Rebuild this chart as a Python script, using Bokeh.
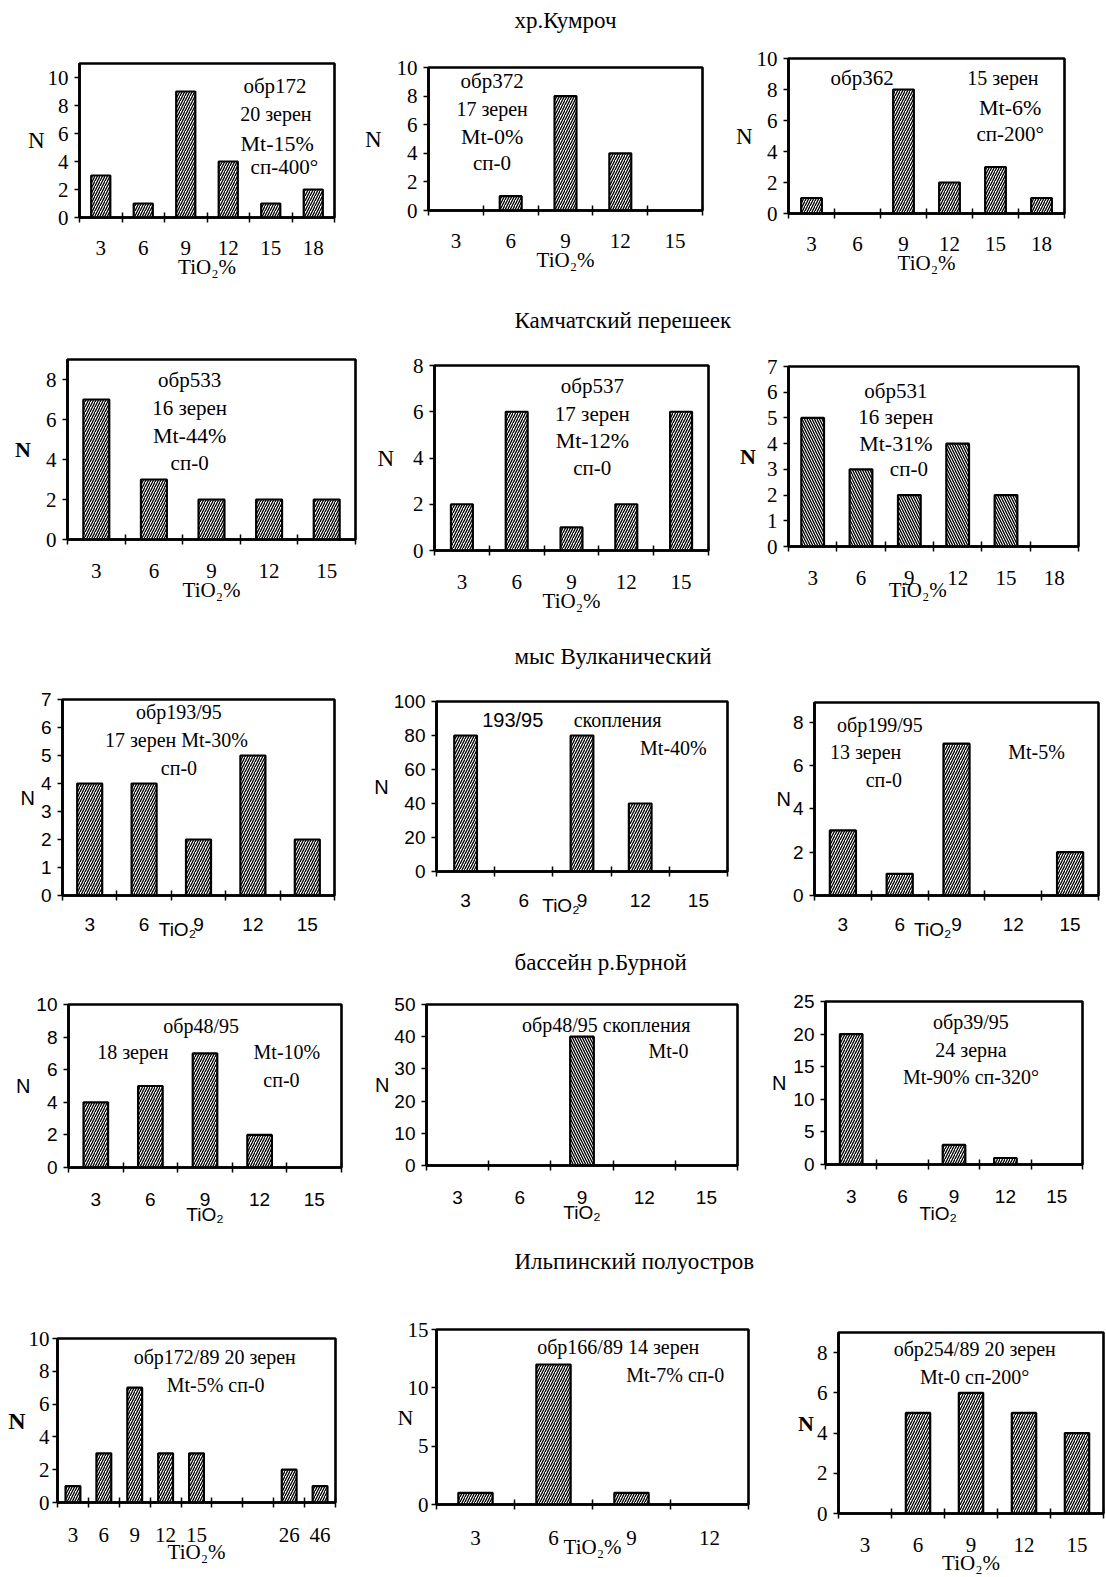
from bokeh.plotting import figure
from bokeh.layouts import column, row
from bokeh.models import Range1d, FixedTicker, Label, LinearAxis, Spacer
from bokeh.embed import file_html
from bokeh.resources import INLINE

SERIF = "Liberation Serif"
SANS = "Liberation Sans"
HAS_ORIENT = "axis_label_orientation" in LinearAxis.properties()
NB = "\u00a0"

# ---------------- data ----------------
cats_3_18 = ["3", "6", "9", "12", "15", "18"]
cats_3_15 = ["3", "6", "9", "12", "15"]
cats_3_12 = ["3", "6", "9", "12"]
cats_ilp172 = ["3", "6", "9", "12", "15", "", "", "26", "46"]

kumroch_172 = [3, 1, 9, 4, 1, 2]
kumroch_372 = [0, 1, 8, 4, 0]
kumroch_362 = [1, 0, 8, 2, 3, 1]
kamch_533 = [7, 3, 2, 2, 2]
kamch_537 = [2, 6, 1, 2, 6]
kamch_531 = [5, 3, 2, 4, 2, 0]
vulk_193 = [4, 4, 2, 5, 2]
vulk_193_skopl = [80, 0, 80, 40, 0]
vulk_199 = [3, 1, 7, 0, 2]
burn_48 = [4, 5, 7, 2, 0]
burn_48_skopl = [0, 0, 40, 0, 0]
burn_39 = [20, 0, 3, 1, 0]
ilp_172 = [1, 3, 7, 3, 3, 0, 0, 2, 1]
ilp_166 = [1, 12, 1, 0]
ilp_254 = [0, 5, 6, 5, 4]

section_titles = ["хр.Кумроч", "Камчатский перешеек", "мыс Вулканический",
                  "бассейн р.Бурной", "Ильпинский полуостров"]

# ---------------- layout / style specs ----------------
T = dict(font=SERIF, tick_size="21px", xlabel="TiO₂%")
A = dict(font=SANS, tick_size="19px", xlabel="TiO₂")

panels = [
    # row 1
    dict(cats=cats_3_18, vals=kumroch_172, ymax=11, ystep=2, frame=(79, 334, 63, 217), bar_w=0.45, hatch="/",
         style=T, nfont=SERIF, nsize="23px", nbold=False, nstand=0, xstand=18, xlstand=-3,
         notes=[("обр172", 4.6, 9.37, 21), ("20 зерен", 4.62, 7.38, 20), ("Mt-15%", 4.65, 5.32, 22), ("сп-400°", 4.82, 3.62, 21)]),
    dict(cats=cats_3_15, vals=kumroch_372, ymax=10, ystep=2, frame=(428, 702, 67, 210), bar_w=0.4, hatch="/",
         style=T, nfont=SERIF, nsize="23px", nbold=False, nstand=12, xstand=18, xlstand=-3,
         notes=[("обр372", 1.16, 9.09, 21), ("17 зерен", 1.16, 7.13, 20), ("Mt-0%", 1.16, 5.17, 22), ("сп-0", 1.16, 3.29, 21)]),
    dict(cats=cats_3_18, vals=kumroch_362, ymax=10, ystep=2, frame=(788, 1064, 58, 213), bar_w=0.45, hatch="/",
         style=T, nfont=SERIF, nsize="23px", nbold=False, nstand=1, xstand=18, xlstand=-3,
         notes=[("обр362", 1.6, 8.71, 21), ("15 зерен", 4.66, 8.71, 20), ("Mt-6%", 4.82, 6.84, 22), ("сп-200°", 4.82, 5.16, 21)]),
    # row 2
    dict(cats=cats_3_15, vals=kamch_533, ymax=9, ystep=2, frame=(67, 355, 359, 539), bar_w=0.45, hatch="/",
         style=T, nfont=SERIF, nsize="22px", nbold=True, nstand=12, xstand=19, xlstand=-3,
         notes=[("обр533", 2.12, 8.0, 21), ("16 зерен", 2.12, 6.6, 21), ("Mt-44%", 2.12, 5.2, 22), ("сп-0", 2.12, 3.85, 21)]),
    dict(cats=cats_3_15, vals=kamch_537, ymax=8, ystep=2, frame=(434, 708, 365, 550), bar_w=0.4, hatch="/",
         style=T, nfont=SERIF, nsize="23px", nbold=False, nstand=16, xstand=19, xlstand=-3,
         notes=[("обр537", 2.88, 7.13, 21), ("17 зерен", 2.88, 5.92, 21), ("Mt-12%", 2.88, 4.75, 22), ("сп-0", 2.88, 3.58, 21)]),
    dict(cats=cats_3_18, vals=kamch_531, ymax=7, ystep=1, frame=(788, 1078, 366, 546), bar_w=0.47, hatch="\\",
         style=T, nfont=SERIF, nsize="22px", nbold=True, nstand=8, xstand=19, xlstand=-10, xlpad=(0, 6),
         notes=[("обр531", 2.22, 6.03, 21), ("16 зерен", 2.22, 5.02, 21), ("Mt-31%", 2.22, 4.01, 22), ("сп-0", 2.49, 3.03, 21)]),
    # row 3
    dict(cats=cats_3_15, vals=vulk_193, ymax=7, ystep=1, frame=(62, 334, 699, 896), bar_w=0.46, hatch="/",
         style=A, nfont=SANS, nsize="20px", nbold=False, nstand=3, xstand=17, xlstand=-15, xlpad=(0, 8),
         notes=[("обр193/95", 2.14, 6.54, 20), ("17 зерен  Mt-30%", 2.14, 5.55, 20), ("сп-0", 2.14, 4.55, 20)]),
    dict(cats=cats_3_15, vals=vulk_193_skopl, ymax=100, ystep=20, frame=(436, 727, 701, 872), bar_w=0.39, hatch="/",
         style=A, nfont=SANS, nsize="20px", nbold=False, nstand=2, xstand=17, xlstand=-15, xlpad=(0, 8),
         notes=[("193/95", 1.31, 88.9, 20, SANS), ("скопления", 3.11, 88.9, 20), ("Mt-40%", 4.07, 72.5, 20)]),
    dict(cats=cats_3_15, vals=vulk_199, ymax=8.9, ystep=2, frame=(814, 1098, 702, 896), bar_w=0.46, hatch="/",
         style=A, nfont=SANS, nsize="20px", nbold=False, nstand=-1, xstand=17, xlstand=-15, xlpad=(0, 9),
         notes=[("обр199/95", 1.15, 7.84, 20), ("13 зерен", 0.9, 6.6, 20), ("сп-0", 1.22, 5.32, 20), ("Mt-5%", 3.91, 6.6, 20)]),
    # row 4
    dict(cats=cats_3_15, vals=burn_48, ymax=10, ystep=2, frame=(68, 341, 1004, 1167), bar_w=0.45, hatch="/",
         style=A, nfont=SANS, nsize="20px", nbold=False, nstand=3, xstand=20, xlstand=-5,
         notes=[("обр48/95", 2.43, 8.71, 20), ("18   зерен", 1.27, 7.06, 20), ("Mt-10%", 4.0, 7.06, 20), ("сп-0", 3.9, 5.34, 20)]),
    dict(cats=cats_3_15, vals=burn_48_skopl, ymax=50, ystep=10, frame=(426, 737, 1004, 1165), bar_w=0.38, hatch="\\",
         style=A, nfont=SANS, nsize="20px", nbold=False, nstand=2, xstand=20, xlstand=-5,
         notes=[("обр48/95 скопления", 2.89, 43.5, 20), ("Mt-0", 3.89, 35.7, 20)]),
    dict(cats=cats_3_15, vals=burn_39, ymax=25, ystep=5, frame=(825, 1082, 1001, 1164), bar_w=0.44, hatch="/",
         style=A, nfont=SANS, nsize="20px", nbold=False, nstand=4, xstand=20, xlstand=-3, xlpad=(0, 6),
         notes=[("обр39/95", 2.83, 21.8, 20), ("24 зерна", 2.83, 17.5, 20), ("Mt-90% сп-320°", 2.83, 13.35, 20)]),
    # row 5
    dict(cats=cats_ilp172, vals=ilp_172, ymax=10, ystep=2, frame=(57, 335, 1338, 1505), bar_w=0.48, hatch="/",
         style=T, nfont=SERIF, nsize="24px", nbold=True, nstand=0, ystand=3, xstand=20, xlstand=-5,
         notes=[("обр172/89 20 зерен", 5.09, 8.86, 20), ("Mt-5% сп-0", 5.12, 7.19, 20)]),
    dict(cats=cats_3_12, vals=ilp_166, ymax=15, ystep=5, frame=(436, 748, 1329, 1504), bar_w=0.44, hatch="/",
         style=T, nfont=SERIF, nsize="22px", nbold=False, nstand=-9, ystand=3, xstand=21, xlstand=-13,
         notes=[("обр166/89 14 зерен", 2.33, 13.46, 20), ("Mt-7% сп-0", 3.06, 11.06, 20)]),
    dict(cats=cats_3_15, vals=ilp_254, ymax=9, ystep=2, frame=(838, 1103, 1332, 1516), bar_w=0.46, hatch="/",
         style=T, nfont=SERIF, nsize="22px", nbold=True, nstand=0, xstand=19, xlstand=-4,
         notes=[("обр254/89 20 зерен", 2.57, 8.2, 20), ("Mt-0 сп-200°", 2.57, 6.77, 20)]),
]

# page bands (px from top of page) and column splits
title_bands = [(0, 44), (300, 346), (636, 683), (942, 985), (1241, 1290)]
row_bands = [(44, 300), (346, 636), (683, 942), (985, 1241), (1290, 1577)]
row_splits = [[0, 350, 725, 1106], [0, 368, 725, 1106], [0, 350, 750, 1106],
              [0, 355, 755, 1106], [0, 380, 775, 1106]]
TOPB = 12


def make_panel(spec, x0, x1, band, botb):
    cats, vals = spec["cats"], spec["vals"]
    n = len(cats)
    fl, fr, ft, fb = spec["frame"]
    bt, bb = band
    st = spec["style"]
    font = st["font"]
    w = x1 - x0
    p = figure(width=w, height=TOPB + (fb - ft) + botb,
               min_border_left=fl - x0, min_border_right=x1 - fr,
               min_border_top=TOPB, min_border_bottom=botb,
               x_range=Range1d(0, n), y_range=Range1d(0, spec["ymax"]),
               output_backend="svg", toolbar_location=None, tools="")
    p.background_fill_color = "white"
    p.border_fill_color = "white"
    p.xgrid.visible = False
    p.ygrid.visible = False
    p.outline_line_color = "black"
    p.outline_line_width = 2.6
    p.outline_line_alpha = 1.0

    xs = [i + 0.5 for i, v in enumerate(vals) if v > 0]
    tops = [v for v in vals if v > 0]
    p.vbar(x=xs, top=tops, bottom=0, width=spec["bar_w"],
           fill_color="white", line_color="black", line_width=2.2,
           hatch_pattern=spec["hatch"], hatch_color="black",
           hatch_scale=5, hatch_weight=1.3)

    centers = [i + 0.5 for i in range(n)]
    xa = p.xaxis[0]
    xa.ticker = FixedTicker(ticks=centers, minor_ticks=list(range(n + 1)))
    xa.major_label_overrides = {c: lab for c, lab in zip(centers, cats)}
    xa.major_tick_line_color = None
    xa.major_tick_out = 0
    xa.major_tick_in = 0
    xa.minor_tick_line_color = "black"
    xa.minor_tick_line_width = 1.5
    xa.minor_tick_out = 5
    xa.minor_tick_in = 5
    xa.axis_line_width = 2.6
    xa.axis_line_color = "black"
    xa.major_label_standoff = spec["xstand"]
    xa.major_label_text_font = font
    xa.major_label_text_font_size = st["tick_size"]
    xa.major_label_text_color = "black"
    lead, trail = spec.get("xlpad", (0, 0))
    xa.axis_label = NB * lead + st["xlabel"] + NB * trail
    xa.axis_label_standoff = spec["xlstand"]
    xa.axis_label_text_font = font
    xa.axis_label_text_font_size = st["tick_size"]
    xa.axis_label_text_font_style = "normal"
    xa.axis_label_text_color = "black"

    ya = p.yaxis[0]
    ya.ticker = FixedTicker(ticks=list(range(0, int(spec["ymax"]) + 1, spec["ystep"])))
    ya.major_tick_out = 5
    ya.major_tick_in = 0
    ya.major_tick_line_width = 1.5
    ya.major_tick_line_color = "black"
    ya.minor_tick_line_color = None
    ya.axis_line_width = 2.6
    ya.axis_line_color = "black"
    ya.major_label_standoff = spec.get("ystand", 6)
    ya.major_label_text_font = font
    ya.major_label_text_font_size = st["tick_size"]
    ya.major_label_text_color = "black"
    ya.axis_label = "N"
    ya.axis_label_standoff = spec.get("nstand", 2)
    ya.axis_label_text_font = spec["nfont"]
    ya.axis_label_text_font_size = spec["nsize"]
    ya.axis_label_text_font_style = "bold" if spec["nbold"] else "normal"
    ya.axis_label_text_color = "black"
    if HAS_ORIENT:
        ya.axis_label_orientation = "horizontal"

    for note in spec["notes"]:
        txt, nx, ny, size = note[:4]
        nfont = note[4] if len(note) > 4 else SERIF
        p.add_layout(Label(x=nx, y=ny, text=txt, text_align="center",
                           text_baseline="middle", text_font=nfont,
                           text_font_size=f"{size}px", text_color="black"))

    parts = []
    sp_top = ft - bt - TOPB
    if sp_top > 0:
        parts.append(Spacer(width=w, height=sp_top))
    parts.append(p)
    sp_bot = bb - fb - botb
    if sp_bot > 0:
        parts.append(Spacer(width=w, height=sp_bot))
    return column(*parts)


def title_fig(text, bt, bb):
    p = figure(width=1106, height=bb - bt, min_border_left=514, min_border_right=0,
               min_border_top=0, min_border_bottom=0,
               x_axis_type=None, y_axis_type=None,
               output_backend="svg", toolbar_location=None, tools="", title=text)
    p.outline_line_color = None
    p.background_fill_color = "white"
    p.border_fill_color = "white"
    p.title.text_font = SERIF
    p.title.text_font_size = "23px"
    p.title.text_font_style = "normal"
    p.title.text_color = "black"
    p.title.align = "left"
    return p


children = []
for r in range(5):
    bt, bb = title_bands[r]
    children.append(title_fig(section_titles[r], bt, bb))
    splits = row_splits[r]
    specs = panels[r * 3:(r + 1) * 3]
    botb = min(row_bands[r][1] - s["frame"][3] for s in specs)
    cols = [make_panel(s, splits[c], splits[c + 1], row_bands[r], botb) for c, s in enumerate(specs)]
    children.append(row(*cols))

layout = column(*children)

with open("out.html", "w") as f:
    f.write(file_html(layout, INLINE, title="TiO2 histograms"))
